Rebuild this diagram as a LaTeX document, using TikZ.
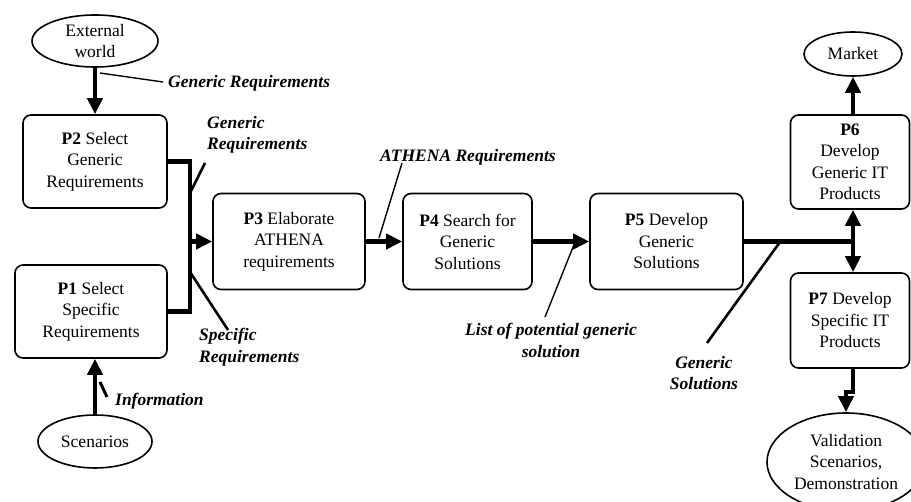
\documentclass[tikz,border=0pt]{standalone}
\usepackage{fontspec}
\setmainfont{Liberation Serif}
\usetikzlibrary{arrows.meta,shapes.geometric}

\begin{document}
\begin{tikzpicture}[x=1pt,y=-1pt,
  every node/.style={inner sep=0pt, font=\fontsize{17.5}{21.5}\selectfont},
  procbox/.style={draw, line width=1.6pt, rounded corners=8pt, align=center},
  actor/.style={draw, ellipse, line width=1.6pt, align=center},
  lbl/.style={font=\fontsize{17.5}{21.5}\selectfont\bfseries\itshape},
  flow/.style={line width=4.5pt, -{Triangle[length=16pt,width=15pt]}},
  link/.style={line width=4.5pt},
  leader/.style={line width=1.4pt},
  bigleader/.style={line width=2.6pt}]

\useasboundingbox (0,0) rectangle (911,502);

% external actors
\node[actor, minimum width=126, minimum height=52] (ext) at (95,41) {External\\world};
\node[actor, minimum width=114, minimum height=53] (scen) at (95,441.5) {Scenarios};
\node[actor, minimum width=98, minimum height=44] (mkt) at (853,54) {Market};
\node[actor, minimum width=158, minimum height=98] (val) at (846,462) {Validation\\Scenarios,\\Demonstration};

% process boxes
\node[procbox, minimum width=144, minimum height=93] (P2) at (95,161.5) {\textbf{P2} Select\\Generic\\Requirements};
\node[procbox, minimum width=152, minimum height=93] (P1) at (91,311.5) {\textbf{P1} Select\\Specific\\Requirements};
\node[procbox, minimum width=152, minimum height=96] (P3) at (289,241.5) {\textbf{P3} Elaborate\\ATHENA\\requirements};
\node[procbox, minimum width=129, minimum height=96] (P4) at (467.5,241.5) {\textbf{P4} Search for\\Generic\\Solutions};
\node[procbox, minimum width=153, minimum height=96] (P5) at (666.5,241.5) {\textbf{P5} Develop\\Generic\\Solutions};
\node[procbox, minimum width=119, minimum height=94] (P6) at (850,162) {\textbf{P6}\\Develop\\Generic IT\\Products};
\node[procbox, minimum width=119, minimum height=95] (P7) at (850,320.5) {\textbf{P7} Develop\\Specific IT\\Products};

% junction points
\coordinate (jA) at (190,241.5);
\coordinate (jB) at (853,241.5);
\coordinate (jC) at (853,392);

% main flows
\draw[flow] (ext.south) -- (P2.north);
\draw[flow] (scen.north) -- (scen.north |- P1.south);
\draw[link, line join=miter] (P2.east) -| (jA) |- (P1.east);
\draw[flow] (jA) -- (P3.west);
\draw[flow] (P3.east) -- (P4.west);
\draw[flow] (P4.east) -- (P5.west);
\draw[link] (P5.east) -- (jB);
\draw[flow] (jB) -- (jB |- P6.south);
\draw[flow] (jB) -- (jB |- P7.north);
\draw[flow] (mkt.south |- P6.north) -- (mkt.south);
\draw[flow] (jB |- P7.south) -- (jC) -| (val.north);

% flow labels
\node[lbl, anchor=base west] (lGR1) at (168,88) {Generic Requirements};
\node[lbl, anchor=north west, align=left] (lGR2) at (207,116) {Generic\\Requirements};
\node[lbl, anchor=north west, align=left] (lSR) at (199,328) {Specific\\Requirements};
\node[lbl, anchor=base west] (lInf) at (115,406) {Information};
\node[lbl, anchor=base west] (lAR) at (380,162) {ATHENA Requirements};
\node[lbl, anchor=north, align=center] (lLP) at (551,323) {List of potential generic\\solution};
\node[lbl, anchor=north, align=center] (lGS) at (704,356) {Generic\\Solutions};

% leader lines from labels to flows
\coordinate (a1) at (100,73);  \coordinate (b1) at (163,82);
\coordinate (a2) at (190,193); \coordinate (b2) at (205,163);
\coordinate (a3) at (190,272); \coordinate (b3) at (228,330);
\coordinate (a4) at (100,382); \coordinate (b4) at (107,397);
\coordinate (a5) at (379,238); \coordinate (b5) at (402,163);
\coordinate (a6) at (575,242); \coordinate (b6) at (545,317);
\coordinate (a7) at (780,242); \coordinate (b7) at (707,343);
\draw[leader] (a1) -- (b1);
\draw[bigleader] (a2) -- (b2);
\draw[bigleader] (a3) -- (b3);
\draw[line width=3pt] (a4) -- (b4);
\draw[leader] (a5) -- (b5);
\draw[leader] (a6) -- (b6);
\draw[bigleader] (a7) -- (b7);

\end{tikzpicture}
\end{document}
